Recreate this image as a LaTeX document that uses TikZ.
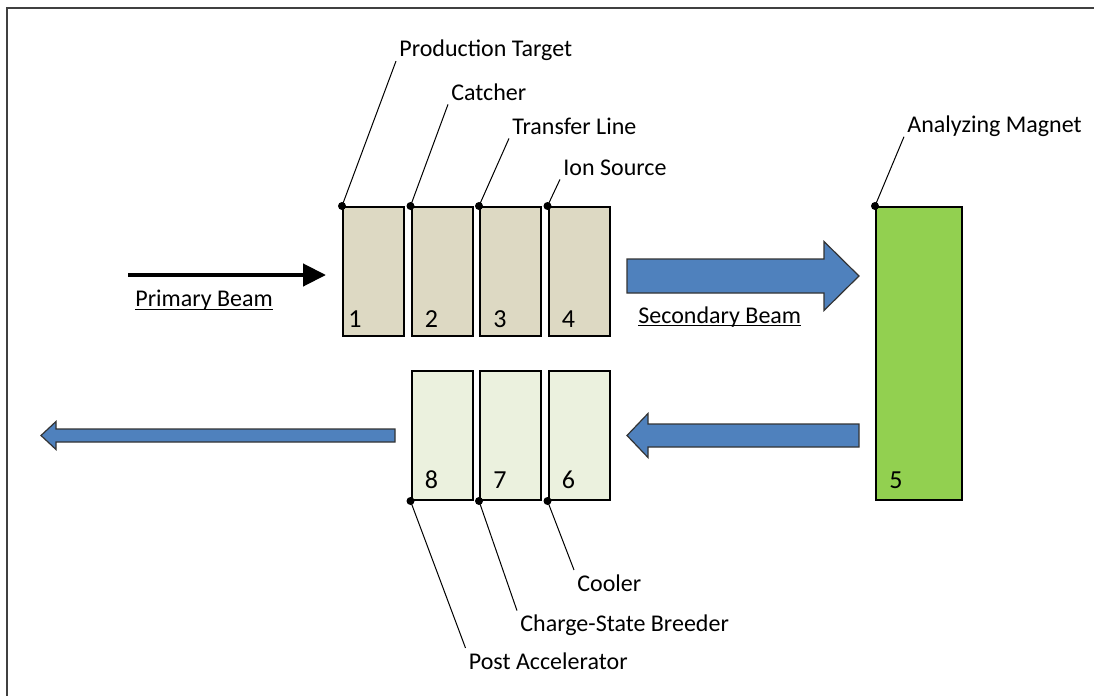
\documentclass[tikz,border=0pt]{standalone}
\usepackage{fontspec}
\setmainfont{Carlito}
\usepackage{tikz}
\usetikzlibrary{arrows.meta, positioning, calc}
\definecolor{tgtfill}{HTML}{DDD9C3}
\definecolor{lowfill}{HTML}{EBF1DE}
\definecolor{magfill}{HTML}{92D050}
\definecolor{beamfill}{HTML}{4F81BD}

\begin{document}
\begin{tikzpicture}[
    x=0.5pt, y=-0.5pt,
    node distance=2.75pt,
    every node/.style={font=\fontsize{12}{14}\selectfont},
    stagebox/.style={rectangle, draw, line width=1pt, minimum width=30.5pt, minimum height=64.5pt, inner sep=0pt},
    tgtbox/.style={stagebox, fill=tgtfill},
    lowbox/.style={stagebox, fill=lowfill},
    magbox/.style={rectangle, draw, line width=1pt, fill=magfill, minimum width=43pt, minimum height=146.5pt, inner sep=0pt},
    num/.style={anchor=base west, inner sep=0pt},
    digit/.style={num, font=\fontsize{13}{15}\selectfont},
    tag/.style={anchor=base west, inner xsep=1.5pt, inner ysep=2pt, text depth=0pt},
    leader/.style={line width=0.5pt},
    dot/.style={fill=black},
    beam/.style={fill=beamfill, draw=black!80, line width=0.6pt},
    primary/.style={-{Triangle[length=11.5pt, width=11pt]}, line width=2.2pt},
    frame/.style={draw=black!75, line width=0.8pt}
]
\useasboundingbox (0,0) rectangle (1094,696);
\draw[frame] (7,696) -- (7,8) -- (1094,8);

% target station, upper row
\node[tgtbox] (tgt) at (373.5,271.5) {};
\node[tgtbox, right=of tgt] (catch) {};
\node[tgtbox, right=of catch] (trans) {};
\node[tgtbox, right=of trans] (ionsrc) {};

% post-acceleration, lower row
\node[lowbox, below=16.5pt of catch] (post) {};
\node[lowbox, below=16.5pt of trans] (breed) {};
\node[lowbox, below=16.5pt of ionsrc] (cool) {};

\node[magbox] (mag) at (919,353.5) {};

% numbers inside the boxes
\node[digit] at ($(tgt.south west)+(6,-10)$) {1};
\node[digit] at ($(catch.south west)+(14,-10)$) {2};
\node[digit] at ($(trans.south west)+(14,-10)$) {3};
\node[digit] at ($(ionsrc.south west)+(14,-10)$) {4};
\node[digit] at ($(mag.south west)+(14,-13)$) {5};
\node[digit] at ($(cool.south west)+(14,-13)$) {6};
\node[digit] at ($(breed.south west)+(14,-13)$) {7};
\node[digit] at ($(post.south west)+(14,-13)$) {8};

% labels
\node[tag] (lblTgt) at (396,56.7) {Production Target};
\node[tag] (lblCatch) at (448,100) {Catcher};
\node[tag] (lblTrans) at (509,134) {Transfer Line};
\node[tag] (lblIon) at (560,175) {Ion Source};
\node[tag] (lblMag) at (904,132.3) {Analyzing Magnet};
\node[tag] (lblCool) at (574,591) {Cooler};
\node[tag] (lblBreed) at (517,631.7) {Charge-State Breeder};
\node[tag] (lblPost) at (465.5,669) {Post Accelerator};

\draw[leader] (tgt.north west) -- (lblTgt.south west);
\draw[leader] (catch.north west) -- (lblCatch.south west);
\draw[leader] (trans.north west) -- (lblTrans.south west);
\draw[leader] (ionsrc.north west) -- (lblIon.south west);
\draw[leader] (mag.north west) -- (lblMag.south west);
\draw[leader] (cool.south west) -- (lblCool.north west);
\draw[leader] (breed.south west) -- (lblBreed.north west);
\draw[leader] (post.south west) -- (lblPost.north west);

\foreach \b in {tgt, catch, trans, ionsrc, mag}
  \fill[dot] (\b.north west) circle[radius=2pt];
\foreach \b in {post, breed, cool}
  \fill[dot] (\b.south west) circle[radius=2pt];

% beams
\coordinate (pbTail) at (128,275);
\coordinate (pbTip) at (326,275);
\draw[primary] (pbTail) -- (pbTip);
\node[num] (lblPrimary) at (135,306.7) {\underline{\smash{Primary Beam}}};

\filldraw[beam] (627,259) -- (824,259) -- (824,241.5) -- (859,276) -- (824,310.5) -- (824,293) -- (627,293) -- cycle;
\node[num] (lblSecondary) at (638,323) {\underline{\smash{Secondary Beam}}};

\filldraw[beam] (859,424) -- (648,424) -- (648,413.5) -- (627,435.5) -- (648,457.5) -- (648,447) -- (859,447) -- cycle;
\filldraw[beam] (395,429) -- (56,429) -- (56,421.5) -- (41,435.5) -- (56,449.5) -- (56,442) -- (395,442) -- cycle;

\end{tikzpicture}
\end{document}
